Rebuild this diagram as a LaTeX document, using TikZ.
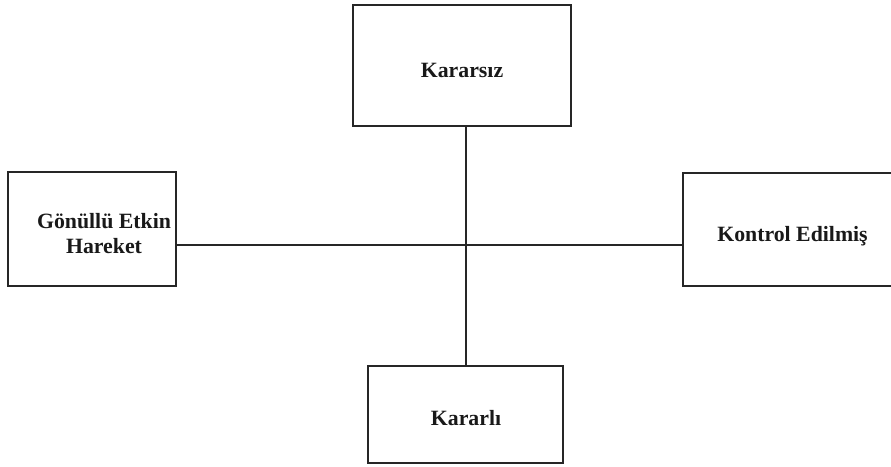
\documentclass[tikz,border=0pt]{standalone}
\usepackage{fontspec}
\setmainfont{Liberation Serif}
\begin{document}
\begin{tikzpicture}[x=1pt,y=-1pt,
  box/.style={draw=black!85,line width=1.5pt,minimum width=#1,inner sep=0pt,fill=white},
  lbl/.style={font=\fontsize{21.8}{25}\selectfont\bfseries,align=center,text=black!90},
  conn/.style={draw=black!85,line width=1.5pt}]
\useasboundingbox (0,0) rectangle (891,466);
\fill[white] (0,0) rectangle (891,466);
\node[box=218,minimum height=121] (top) at (462,65.5) {};
\node[box=168,minimum height=114] (left) at (92,229) {};
\node[box=218,minimum height=113] (right) at (792,229.5) {};
\node[box=195,minimum height=97] (bottom) at (465.5,414.5) {};
\coordinate (c) at (466,245);
\draw[conn] (top.south -| c) -- (bottom.north -| c);
\draw[conn] (left.east |- c) -- (right.west |- c);
\node[lbl] (tl) at (462,70) {Kararsız};
\node[lbl] (ll) at (104,234) {Gönüllü Etkin\\Hareket};
\node[lbl] (rl) at (792.5,236) {Kontrol Edilmiş};
\node[lbl] (bl) at (466,418) {Kararlı};
\end{tikzpicture}
\end{document}
